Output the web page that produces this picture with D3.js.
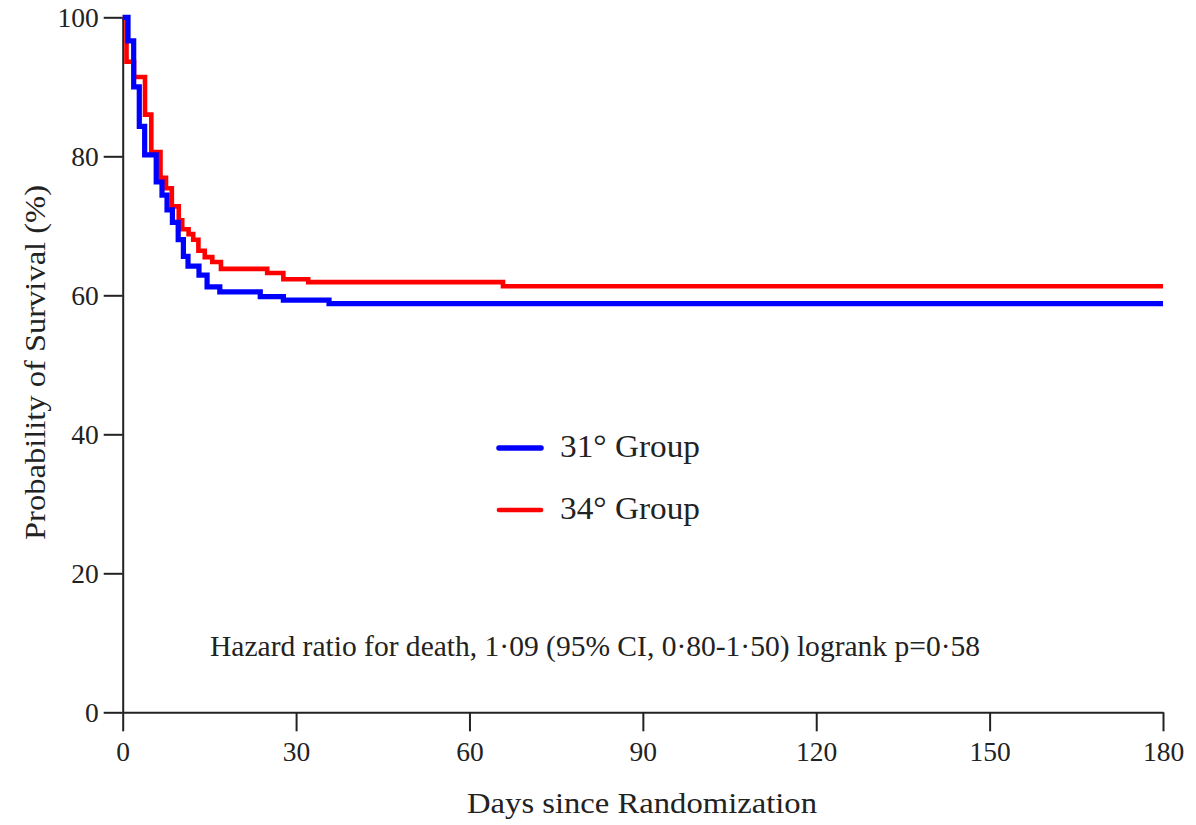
<!DOCTYPE html>
<html><head><meta charset="utf-8">
<script src="https://cdn.jsdelivr.net/npm/d3@7"></script>
<style>
html,body{margin:0;padding:0;background:#fff;}
svg{display:block;}
text{font-family:"Liberation Serif","Times New Roman",serif;fill:#222;}
</style></head>
<body>
<svg id="chart" width="1196" height="825"></svg>
<script>
// Kaplan–Meier step data (days, survival %)
const blueDays = [0, 0.92, 1.9, 2.87, 3.8, 5.8, 6.8, 7.67, 8.6, 9.6, 10.5, 11.3, 13.2, 14.6, 16.8, 23.8, 27.8, 35.7, 180];
const blueSurv = [100, 96.6, 90.0, 84.3, 80.2, 76.3, 74.4, 72.3, 70.5, 68.0, 65.6, 64.2, 62.9, 61.2, 60.5, 59.8, 59.3, 58.8, 58.8];
const redDays = [0, 0.66, 1.96, 3.86, 4.95, 6.54, 7.49, 8.5, 9.7, 10.3, 11.4, 12.2, 13.1, 14.2, 15.5, 17.0, 25.0, 27.8, 32.1, 65.8, 180];
const redSurv = [100, 93.6, 91.4, 86.0, 80.6, 76.9, 75.4, 72.8, 70.8, 69.5, 68.8, 68.0, 66.4, 65.5, 64.8, 63.8, 63.2, 62.3, 61.9, 61.3, 61.3];
const xTicks = [0, 30, 60, 90, 120, 150, 180];
const yTicks = [0, 20, 40, 60, 80, 100];
const seriesNames = ["31\u00B0 Group", "34\u00B0 Group"];
const seriesColors = ["#0000ff", "#ff0000"];
const xTitle = "Days since Randomization";
const yTitle = "Probability of Survival (%)";
const note = "Hazard ratio for death, 1\u00B709 (95% CI, 0\u00B780-1\u00B750) logrank p=0\u00B758";

const svg = d3.select("#chart");
const mLeft = 122.7, mTop = 17.3, mRight = 1163, mBottom = 712.3;
const x = d3.scaleLinear().domain([0, 180]).range([mLeft, mRight]);
const y = d3.scaleLinear().domain([0, 100]).range([mBottom, mTop]);

const axisColor = "#222";
const gx = svg.append("g").attr("transform", `translate(0,${mBottom})`)
  .call(d3.axisBottom(x).tickValues(xTicks).tickSize(19).tickSizeOuter(0).tickPadding(10));
const gy = svg.append("g").attr("transform", `translate(${mLeft},0)`)
  .call(d3.axisLeft(y).tickValues(yTicks).tickSize(19).tickSizeOuter(0).tickPadding(5));
[gx, gy].forEach(g => {
  g.select(".domain").attr("stroke", axisColor).attr("stroke-width", 2);
  g.selectAll(".tick line").attr("stroke", axisColor).attr("stroke-width", 2);
  g.selectAll(".tick text").attr("font-family", "Liberation Serif").attr("font-size", 27.5).attr("fill", "#222");
});

const line = d3.line().curve(d3.curveStepAfter).x(d => x(d[0])).y(d => y(d[1]));
const redData = redDays.map((d, i) => [d, redSurv[i]]);
const blueData = blueDays.map((d, i) => [d, blueSurv[i]]);
svg.append("path").datum(redData).attr("d", line).attr("fill", "none")
  .attr("stroke", seriesColors[1]).attr("stroke-width", 4.6);
svg.append("path").datum(blueData).attr("d", line).attr("fill", "none")
  .attr("stroke", seriesColors[0]).attr("stroke-width", 5.2);

const legY = [448, 510];
seriesNames.forEach((n, i) => {
  svg.append("line").attr("x1", 499).attr("x2", 541).attr("y1", legY[i]).attr("y2", legY[i])
    .attr("stroke", seriesColors[i]).attr("stroke-width", i === 0 ? 5.5 : 4.6).attr("stroke-linecap", "round");
  svg.append("text").attr("x", 560).attr("y", legY[i] + 9).attr("font-size", 32)
    .attr("textLength", 140).attr("lengthAdjust", "spacingAndGlyphs").text(n);
});

svg.append("text").attr("x", 210).attr("y", 656).attr("font-size", 28.5)
  .attr("textLength", 770).attr("lengthAdjust", "spacingAndGlyphs").text(note);

svg.append("text").attr("x", 467).attr("y", 813)
  .attr("font-size", 30).attr("textLength", 350).attr("lengthAdjust", "spacingAndGlyphs").text(xTitle);
svg.append("text").attr("transform", `translate(45,540) rotate(-90)`)
  .attr("font-size", 30).attr("textLength", 355).attr("lengthAdjust", "spacingAndGlyphs").text(yTitle);
</script>
</body></html>
